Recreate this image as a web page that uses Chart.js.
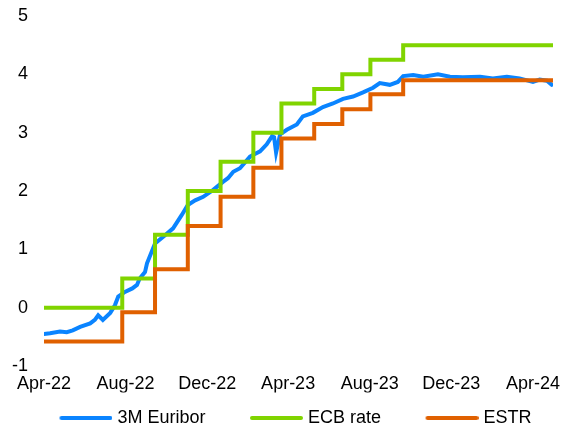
<!DOCTYPE html>
<html>
<head>
<meta charset="utf-8">
<script src="https://cdn.jsdelivr.net/npm/chart.js@4/dist/chart.umd.min.js"></script>
<style>
  html, body { margin: 0; padding: 0; background: #fff; }
  #wrap { width: 563px; height: 426px; }
</style>
</head>
<body>
<div id="wrap"><canvas id="rates-chart"></canvas></div>
<script>
// Axis
const startDate = "2022-04-01";
const endDate = "2024-05-01";
const tickDates = ["2022-04-01", "2022-08-01", "2022-12-01", "2023-04-01", "2023-08-01", "2023-12-01", "2024-04-01"];
const tickLabels = ["Apr-22", "Aug-22", "Dec-22", "Apr-23", "Aug-23", "Dec-23", "Apr-24"];

// 3M Euribor
const euriborDates = [
  "2022-04-01", "2022-04-10", "2022-04-25", "2022-05-05", "2022-05-14", "2022-05-25", "2022-06-09", "2022-06-16",
  "2022-06-21", "2022-06-28", "2022-07-09", "2022-07-16", "2022-07-21", "2022-07-31", "2022-08-11", "2022-08-18",
  "2022-08-22", "2022-08-30", "2022-09-02", "2022-09-14", "2022-09-29", "2022-10-11", "2022-10-24", "2022-11-02",
  "2022-11-13", "2022-11-25", "2022-12-10", "2022-12-25", "2023-01-01", "2023-01-09", "2023-01-19", "2023-02-03",
  "2023-02-18", "2023-02-28", "2023-03-08", "2023-03-11", "2023-03-14", "2023-03-20", "2023-03-30", "2023-04-14",
  "2023-04-23", "2023-05-08", "2023-05-23", "2023-06-07", "2023-06-22", "2023-07-07", "2023-07-22", "2023-08-06",
  "2023-08-16", "2023-08-31", "2023-09-12", "2023-09-20", "2023-10-05", "2023-10-20", "2023-11-11", "2023-11-29",
  "2023-12-18", "2024-01-13", "2024-02-01", "2024-02-22", "2024-03-12", "2024-04-01", "2024-04-11", "2024-04-22",
  "2024-04-29"
];
const euriborValues = [
  -0.45, -0.44, -0.41, -0.42, -0.39, -0.33, -0.27, -0.21,
  -0.13, -0.21, -0.09, 0.04, 0.19, 0.27, 0.33, 0.39,
  0.50, 0.61, 0.76, 1.10, 1.24, 1.36, 1.59, 1.76,
  1.84, 1.90, 2.02, 2.16, 2.22, 2.33, 2.39, 2.59,
  2.68, 2.80, 2.94, 2.92, 2.66, 2.97, 3.05, 3.14,
  3.28, 3.34, 3.44, 3.50, 3.58, 3.62, 3.69, 3.77,
  3.85, 3.82, 3.87, 3.97, 3.99, 3.96, 4.00, 3.96,
  3.95, 3.96, 3.93, 3.96, 3.93, 3.87, 3.91, 3.89,
  3.82
];

// ECB rate, change dates and levels
const ecbDates = ["2022-04-01", "2022-07-27", "2022-09-14", "2022-11-02", "2022-12-21", "2023-02-08", "2023-03-22", "2023-05-10", "2023-06-21", "2023-08-02", "2023-09-20", "2024-05-01"];
const ecbValues = [0, 0.5, 1.25, 2.0, 2.5, 3.0, 3.5, 3.75, 4.0, 4.25, 4.5, 4.5];

// ESTR, same change dates
const estrDates = ["2022-04-01", "2022-07-27", "2022-09-14", "2022-11-02", "2022-12-21", "2023-02-08", "2023-03-22", "2023-05-10", "2023-06-21", "2023-08-02", "2023-09-20", "2024-05-01"];
const estrValues = [-0.58, -0.08, 0.66, 1.40, 1.90, 2.40, 2.90, 3.15, 3.40, 3.66, 3.90, 3.89];

// days since startDate
function dayOf(s) {
  return Math.round((Date.parse(s) - Date.parse(startDate)) / 86400000);
}

function toPoints(dates, values) {
  return dates.map((d, i) => ({ x: dayOf(d), y: values[i] }));
}

// legend sample: a 53px line sitting at the right of a wider blank image,
// which gives the wide gap between legend entries
function legendLine(color) {
  const c = document.createElement("canvas");
  c.width = 85;
  c.height = 8;
  const g = c.getContext("2d");
  g.strokeStyle = color;
  g.lineWidth = 4;
  g.lineCap = "round";
  g.beginPath();
  g.moveTo(c.width - 51, 4);
  g.lineTo(c.width - 2, 4);
  g.stroke();
  return c;
}

const tickDays = tickDates.map(dayOf);
const font = { family: "Arial, 'Liberation Sans', sans-serif", size: 18 };

const ctx = document.getElementById("rates-chart").getContext("2d");

const chart = new Chart(ctx, {
  type: "line",
  data: {
    // first dataset is drawn on top, so the order is reversed here and in the legend
    datasets: [
      {
        label: "ESTR",
        data: toPoints(estrDates, estrValues),
        borderColor: "#E06000",
        backgroundColor: "#E06000",
        borderWidth: 4,
        borderCapStyle: "round",
        stepped: true,
        pointRadius: 0,
        pointStyle: legendLine("#E06000"),
      },
      {
        label: "ECB rate",
        data: toPoints(ecbDates, ecbValues),
        borderColor: "#80D400",
        backgroundColor: "#80D400",
        borderWidth: 4,
        borderCapStyle: "round",
        stepped: true,
        pointRadius: 0,
        pointStyle: legendLine("#80D400"),
      },
      {
        label: "3M Euribor",
        data: toPoints(euriborDates, euriborValues),
        borderColor: "#0A84FF",
        backgroundColor: "#0A84FF",
        borderWidth: 4,
        borderCapStyle: "round",
        pointRadius: 0,
        pointStyle: legendLine("#0A84FF"),
      },
    ],
  },
  options: {
    responsive: true,
    maintainAspectRatio: false,
    animation: false,
    layout: {
      padding: { left: 0, right: 0, top: 16, bottom: -11 },
    },
    plugins: {
      tooltip: { enabled: false },
      legend: {
        position: "bottom",
        reverse: true,
        labels: {
          usePointStyle: true,
          pointStyleWidth: 77,
          padding: 16.5,
          color: "#000",
          font: font,
        },
      },
    },
    scales: {
      x: {
        type: "linear",
        min: 0,
        max: dayOf(endDate),
        grid: { display: false, drawTicks: false },
        border: { display: false },
        afterBuildTicks: (scale) => {
          scale.ticks = tickDays.map((v) => ({ value: v }));
        },
        afterFit: (scale) => {
          scale.height = 26.5;
          scale.paddingLeft = 0;
          scale.paddingRight = 10;
        },
        ticks: {
          autoSkip: false,
          maxRotation: 0,
          padding: 7,
          color: "#000",
          font: font,
          callback: (value) => {
            const i = tickDays.indexOf(value);
            return i >= 0 ? tickLabels[i] : "";
          },
        },
      },
      y: {
        min: -1,
        max: 5,
        grid: { display: false, drawTicks: false },
        border: { display: false },
        afterFit: (scale) => {
          scale.width = 44;
          scale.paddingTop = 0;
          scale.paddingBottom = 0;
        },
        ticks: {
          stepSize: 1,
          padding: 16,
          color: "#000",
          font: font,
        },
      },
    },
  },
});
</script>
</body>
</html>
